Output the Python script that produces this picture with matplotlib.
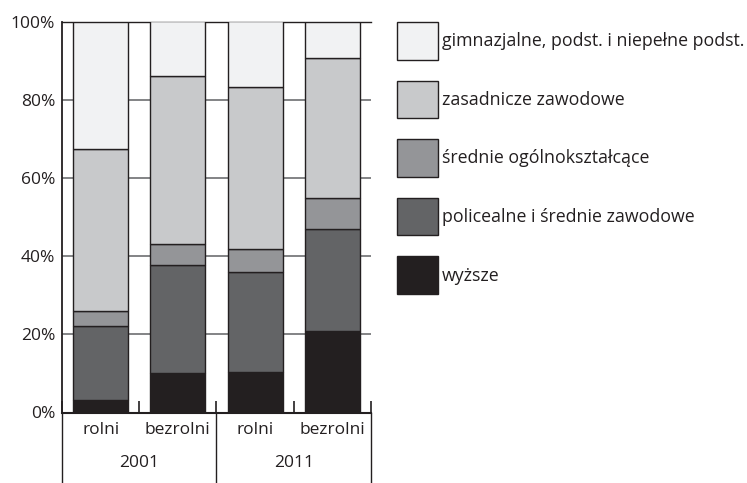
import numpy as np
import matplotlib
matplotlib.use('Agg')
import matplotlib.pyplot as plt
from matplotlib.transforms import blended_transform_factory

plt.rcParams['font.family'] = ['Open Sans', 'DejaVu Sans']

# dane (%)
categories = ['rolni', 'bezrolni', 'rolni', 'bezrolni']
years = ['2001', '2011']
series_names = ['wyższe', 'policealne i średnie zawodowe', 'średnie ogólnokształcące',
                'zasadnicze zawodowe', 'gimnazjalne, podst. i niepełne podst.']
wyzsze = [3.2, 10.0, 10.3, 20.9]
policealne = [18.9, 27.6, 25.7, 26.0]
srednie_ogolne = [3.8, 5.6, 5.7, 8.0]
zasadnicze = [41.4, 42.9, 41.6, 35.8]
gimnazjalne = [32.7, 13.9, 16.7, 9.3]
colors = ['#231f20', '#636466', '#949598', '#c8c9cb', '#f1f2f3']

series = [wyzsze, policealne, srednie_ogolne, zasadnicze, gimnazjalne]

fig = plt.figure(figsize=(7.47, 4.83), dpi=100)
ax = fig.add_axes([62 / 747, 1 - 412.5 / 483, 309 / 747, 391 / 483])

x = np.arange(len(categories))
bottom = np.zeros(len(categories))
handles = []
for name, vals, c in zip(series_names, series, colors):
    b = ax.bar(x, vals, 0.715, bottom=bottom, color=c, edgecolor='#231f20',
               linewidth=1.0, label=name, zorder=3)
    handles.append(b)
    bottom += np.array(vals)

ax.set_xlim(-0.5, 3.5)
ax.set_ylim(0, 100)
ax.set_yticks([0, 20, 40, 60, 80, 100])
ax.set_yticklabels(['0%', '20%', '40%', '60%', '80%', '100%'], fontsize=12.5)
ax.tick_params(axis='y', length=0, pad=5, colors='#231f20')
for yv in [20, 40, 60, 80]:
    ax.axhline(yv, color='#6d6e71', lw=1.2, zorder=1)

ax.set_xticks(x)
ax.set_xticklabels(categories, fontsize=12.5)
ax.tick_params(axis='x', length=0, pad=7, colors='#231f20')
ax.set_xticks([-0.5, 0.5, 1.5, 2.5, 3.5], minor=True)
ax.tick_params(axis='x', which='minor', direction='in', length=9, width=1.2,
               color='#231f20')

ax.spines['right'].set_visible(False)
ax.spines['top'].set_color('#231f20')
ax.spines['top'].set_linewidth(1.0)
ax.spines['left'].set_color('#231f20')
ax.spines['left'].set_linewidth(1.3)
ax.spines['bottom'].set_color('#231f20')
ax.spines['bottom'].set_linewidth(1.5)

# grupowanie lat pod osią
tr = blended_transform_factory(ax.transData, ax.transAxes)
for xv in [-0.5, 1.5, 3.5]:
    ax.plot([xv, xv], [0, -0.19], transform=tr, color='#231f20', lw=1.0,
            clip_on=False)
for i, yr in enumerate(years):
    ax.text(2 * i + 0.5, -0.13, yr, transform=tr, ha='center', va='center',
            fontsize=12.5, color='#231f20')

# legenda
leg = fig.legend(handles[::-1], series_names[::-1], loc='upper left',
                 bbox_to_anchor=(397 / 747, 1 - 22 / 483), frameon=False,
                 fontsize=12.8, handlelength=2.3, handleheight=2.88,
                 labelspacing=1.18, handletextpad=0.22, borderaxespad=0,
                 borderpad=0)
for t in leg.get_texts():
    t.set_color('#231f20')

fig.savefig('out.png', dpi=100)
